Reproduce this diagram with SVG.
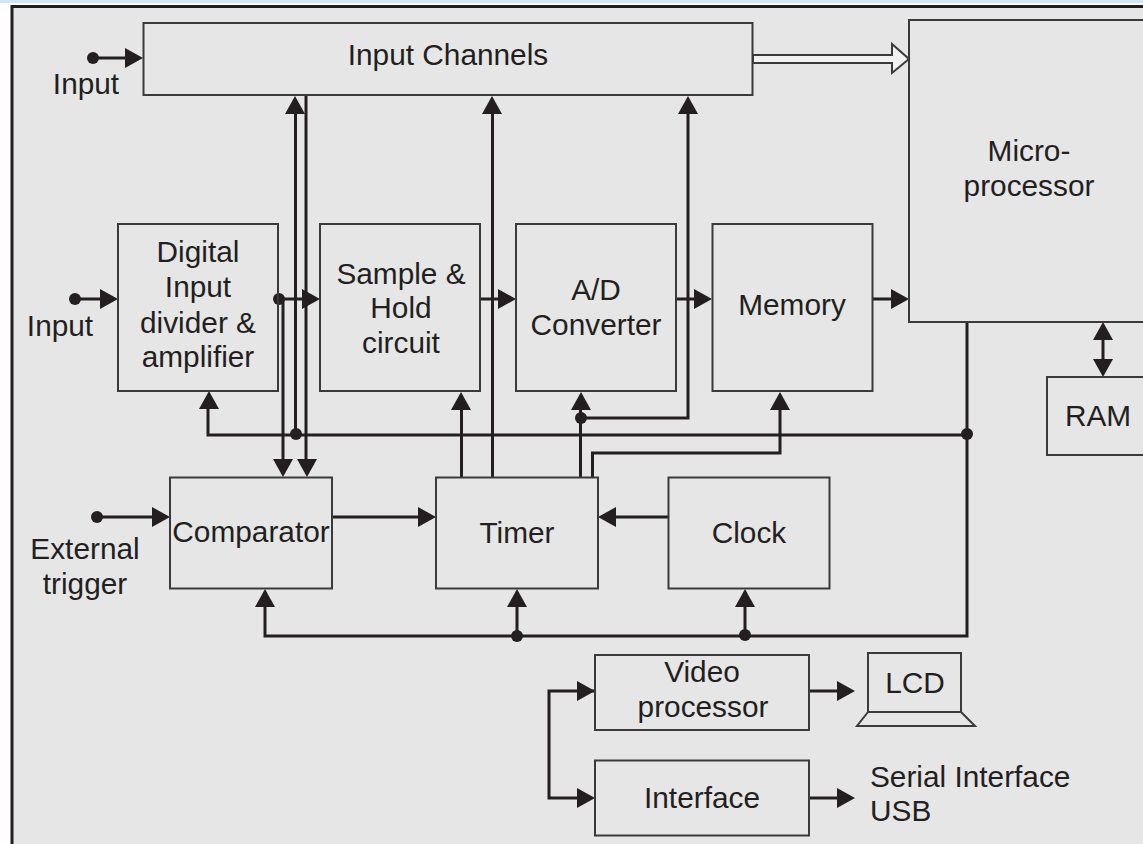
<svg xmlns="http://www.w3.org/2000/svg" width="1143" height="844" viewBox="0 0 1143 844">
<style>
.b{fill:none;stroke:#3a3a3a;stroke-width:2}
.c{fill:none;stroke:#231f20;stroke-width:3}
.a{fill:#231f20}
text{font-family:"Liberation Sans",Arial,sans-serif;font-size:29.800px;fill:#231f20;text-anchor:middle}
.l{text-anchor:start}
</style>
<defs>
<path id="ar" class="a" d="M0 0L-18 -10V10Z"/>
<circle id="d" class="a" r="6"/>
</defs>
<rect width="1143" height="844" fill="#fff"/>
<rect width="1143" height="3" fill="#cfe6f7"/>
<path d="M12 844V7H1143V844Z" fill="#e6e6e6"/>
<path d="M12 844V6.500H1143" fill="none" stroke="#231f20" stroke-width="3"/>
<g id="connectors">
<path class="c" d="M92 58H130M75 299H105M96 517H155"/>
<path class="c" d="M295.500 110V435M306 95V465M283 300V462M279 299H305"/>
<path class="c" d="M208 405V435H967M967 322V636H265V605M517 636V605M745 636V605M461.500 477V405M492.500 477V110M580.500 477V405M581 418H688V110M592.500 477V453H780V405"/>
<path class="c" d="M481 299H503M676 299H698M873 299H895M333 517H422M668 517H612M810 691H842M810 798H842M595 691H549V798H582M1103 335V365"/>
<path d="M753 55H892V44L909 59L892 73V63H753Z" fill="#f2f2f2" stroke="#3a3a3a" stroke-width="2"/>
<use href="#d" x="93" y="58"/><use href="#d" x="75" y="299"/><use href="#d" x="97" y="517"/>
<use href="#d" x="279" y="299"/><use href="#d" x="296" y="434"/><use href="#d" x="581" y="418"/><use href="#d" x="967" y="434"/><use href="#d" x="517" y="636"/><use href="#d" x="745" y="635"/>
<use href="#ar" transform="translate(143 58)"/>
<use href="#ar" transform="translate(118 299)"/>
<use href="#ar" transform="translate(170 517)"/>
<use href="#ar" transform="translate(320 299)"/>
<use href="#ar" transform="translate(516 299)"/>
<use href="#ar" transform="translate(712 299)"/>
<use href="#ar" transform="translate(909 299)"/>
<use href="#ar" transform="translate(436 517)"/>
<use href="#ar" transform="translate(598 517) rotate(180)"/>
<use href="#ar" transform="translate(595 691)"/>
<use href="#ar" transform="translate(595 798)"/>
<use href="#ar" transform="translate(855 691)"/>
<use href="#ar" transform="translate(855 798)"/>
<use href="#ar" transform="translate(295 96) rotate(-90)"/>
<use href="#ar" transform="translate(492 96) rotate(-90)"/>
<use href="#ar" transform="translate(688 96) rotate(-90)"/>
<use href="#ar" transform="translate(209 391) rotate(-90)"/>
<use href="#ar" transform="translate(461 392) rotate(-90)"/>
<use href="#ar" transform="translate(581 392) rotate(-90)"/>
<use href="#ar" transform="translate(780 392) rotate(-90)"/>
<use href="#ar" transform="translate(265 589) rotate(-90)"/>
<use href="#ar" transform="translate(517 589) rotate(-90)"/>
<use href="#ar" transform="translate(745 589) rotate(-90)"/>
<use href="#ar" transform="translate(283 477) rotate(90)"/>
<use href="#ar" transform="translate(307 477) rotate(90)"/>
<use href="#ar" transform="translate(1103 322) rotate(-90)"/>
<use href="#ar" transform="translate(1103 377) rotate(90)"/>
</g>
<g id="input-channels"><rect class="b" x="143.500" y="23" width="609" height="72"/><text x="448" y="65">Input Channels</text></g>
<g id="microprocessor"><path class="b" d="M1143 20H909V322H1143" /><text x="1029" y="161">Micro-</text><text x="1029" y="196">processor</text></g>
<g id="digital-input"><rect class="b" x="118" y="224" width="160" height="167"/><text x="198" y="262">Digital</text><text x="198" y="297">Input</text><text x="198" y="333">divider &amp;</text><text x="198" y="367">amplifier</text></g>
<g id="sample-hold"><rect class="b" x="320" y="224" width="160" height="167"/><text x="401" y="284">Sample &amp;</text><text x="401" y="318">Hold</text><text x="401" y="353">circuit</text></g>
<g id="adc"><rect class="b" x="516" y="224" width="160" height="167"/><text x="596" y="300">A/D</text><text x="596" y="335">Converter</text></g>
<g id="memory"><rect class="b" x="712.500" y="224" width="160" height="167"/><text x="792" y="315">Memory</text></g>
<g id="ram"><path class="b" d="M1143 377H1047V455H1143"/><text x="1098" y="426">RAM</text></g>
<g id="comparator"><rect class="b" x="170" y="477.500" width="162" height="111"/><text x="251" y="542">Comparator</text></g>
<g id="timer"><rect class="b" x="436" y="477.500" width="162" height="111"/><text x="517" y="543">Timer</text></g>
<g id="clock"><rect class="b" x="668.500" y="477.500" width="161" height="111"/><text x="749" y="543">Clock</text></g>
<g id="video"><rect class="b" x="595" y="655" width="214" height="75"/><text x="702" y="682">Video</text><text x="703" y="717">processor</text></g>
<g id="interface"><rect class="b" x="595" y="760.500" width="214" height="75"/><text x="702" y="808">Interface</text></g>
<g id="lcd"><path class="b" d="M868 653H961V712H868Z M868 712L857 726H975L961 712"/><text x="915" y="693">LCD</text></g>
<g id="labels">
<text x="86" y="94">Input</text>
<text x="60" y="336">Input</text>
<text x="85" y="559">External</text>
<text x="85" y="594">trigger</text>
<text class="l" x="870" y="787">Serial Interface</text>
<text class="l" x="870" y="821">USB</text>
</g>
</svg>
